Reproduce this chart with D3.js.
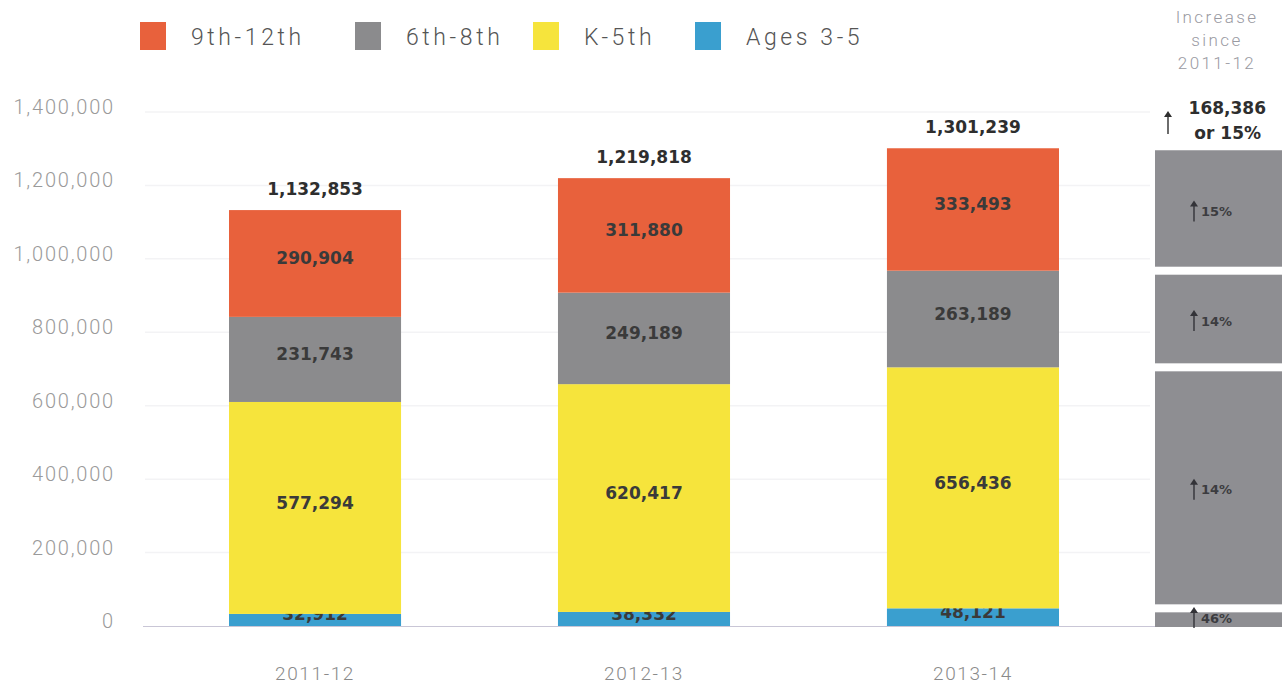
<!DOCTYPE html>
<html>
<head>
<meta charset="utf-8">
<script src="https://cdn.jsdelivr.net/npm/d3@7"></script>
<style>
  body { margin: 0; background: #fff; }
  text { font-family: Roboto, "Liberation Sans", sans-serif; }
  .val { font-family: "DejaVu Sans", sans-serif; font-weight: bold; }
</style>
</head>
<body>
<div id="chart"></div>
<script>
var width = 1282,
    height = 684;

var years = ["2011-12", "2012-13", "2013-14"];
var groups = ["Ages 3-5", "K-5th", "6th-8th", "9th-12th"];
var ages35 = [32912, 38332, 48121];
var k5 = [577294, 620417, 656436];
var g68 = [231743, 249189, 263189];
var g912 = [290904, 311880, 333493];
var totals = [1132853, 1219818, 1301239];
var increases = ["46%", "14%", "14%", "15%"];
var yTicks = [0, 200000, 400000, 600000, 800000, 1000000, 1200000, 1400000];

var color = d3.scaleOrdinal()
    .domain(groups)
    .range(["#3a9fcf", "#f6e43c", "#8b8b8d", "#e8613c"]);

var x = d3.scaleBand()
    .domain(years)
    .range([229, 1059])
    .paddingInner(0.477)
    .paddingOuter(0);

var y = d3.scaleLinear()
    .domain([0, 1400000])
    .range([626, 112]);

var fmt = d3.format(",");

var rows = years.map(function(d, i) {
  return { year: d, "Ages 3-5": ages35[i], "K-5th": k5[i], "6th-8th": g68[i], "9th-12th": g912[i] };
});
var stack = d3.stack().keys(groups)(rows);

var svg = d3.select("#chart").append("svg")
    .attr("width", width)
    .attr("height", height);

// thin up arrow: line plus small head
function arrow(g, ax, top, len, col) {
  g.append("line")
      .attr("x1", ax).attr("x2", ax)
      .attr("y1", top + 3).attr("y2", top + len)
      .style("stroke", col)
      .style("stroke-width", 1.4);
  g.append("path")
      .attr("d", "M" + (ax - 4) + "," + (top + 6) + "L" + ax + "," + top + "L" + (ax + 4) + "," + (top + 6) + "Z")
      .style("fill", col);
}

// gridlines
svg.append("g").selectAll("line")
    .data(yTicks.slice(1))
  .enter().append("line")
    .attr("x1", 145).attr("x2", 1150)
    .attr("y1", function(d) { return y(d); })
    .attr("y2", function(d) { return y(d); })
    .style("stroke", "#f3f3f5")
    .style("stroke-width", 1.5);

// y axis labels
svg.append("g").selectAll("text")
    .data(yTicks)
  .enter().append("text")
    .attr("x", 115)
    .attr("y", function(d) { return y(d) - 5; })
    .attr("dy", ".35em")
    .attr("text-anchor", "end")
    .style("font-size", "20px")
    .style("font-weight", 300)
    .style("letter-spacing", "1.8px")
    .style("fill", "#9a9a9a")
    .text(function(d) { return fmt(d); });

// baseline
svg.append("line")
    .attr("x1", 143).attr("x2", 1282)
    .attr("y1", y(0) + 0.5).attr("y2", y(0) + 0.5)
    .style("stroke", "#c9c6d6")
    .style("stroke-width", 1.2);

// stacked bars
var layer = svg.selectAll(".layer")
    .data(stack)
  .enter().append("g")
    .attr("class", "layer")
    .style("fill", function(d) { return color(d.key); });

layer.selectAll("rect")
    .data(function(d) { return d; })
  .enter().append("rect")
    .attr("x", function(d) { return x(d.data.year); })
    .attr("width", x.bandwidth())
    .attr("y", function(d) { return y(d[1]); })
    .attr("height", function(d) { return y(d[0]) - y(d[1]); });

layer.selectAll("text")
    .data(function(d) { return d; })
  .enter().append("text")
    .attr("class", "val")
    .attr("x", function(d) { return x(d.data.year) + x.bandwidth() / 2; })
    .attr("y", function(d) {
      var c = (y(d[0]) + y(d[1])) / 2 - 5;
      return Math.min(c, y(0) - 12);
    })
    .attr("dy", ".35em")
    .attr("text-anchor", "middle")
    .style("font-size", "17px")
    .style("fill", "#3a3a3a")
    .text(function(d) { return fmt(d[1] - d[0]); });

// totals
svg.append("g").selectAll("text")
    .data(totals)
  .enter().append("text")
    .attr("class", "val")
    .attr("x", function(d, i) { return x(years[i]) + x.bandwidth() / 2; })
    .attr("y", function(d) { return y(d) - 21; })
    .attr("dy", ".35em")
    .attr("text-anchor", "middle")
    .style("font-size", "17px")
    .style("fill", "#2e2e2e")
    .text(function(d) { return fmt(d); });

// x labels
svg.append("g").selectAll("text")
    .data(years)
  .enter().append("text")
    .attr("x", function(d) { return x(d) + x.bandwidth() / 2; })
    .attr("y", 673)
    .attr("dy", ".35em")
    .attr("text-anchor", "middle")
    .style("font-size", "19px")
    .style("font-weight", 300)
    .style("letter-spacing", "1.6px")
    .style("fill", "#8a8a8a")
    .text(function(d) { return d; });

// increase panel, built from the latest year's segments
var last = stack.map(function(s, i) { return { key: s.key, seg: s[2], inc: increases[i] }; });
var px0 = 1155, pw = 127;

var panel = svg.append("g");
panel.selectAll("rect")
    .data(last)
  .enter().append("rect")
    .attr("x", px0)
    .attr("width", pw)
    .attr("y", function(d, i) { return y(d.seg[1]) + (i == 3 ? 2 : 4); })
    .attr("height", function(d, i) {
      var top = y(d.seg[1]) + (i == 3 ? 2 : 4);
      var bot = i == 0 ? y(0) + 1 : y(d.seg[0]) - 4;
      return bot - top;
    })
    .style("fill", "#8e8e92");

last.forEach(function(d, i) {
  var cy = i == 0 ? 618 : (y(d.seg[0]) + y(d.seg[1])) / 2 + 2;
  arrow(panel, 1194, cy - 11, 21, "#333338");
  panel.append("text")
      .attr("class", "val")
      .attr("x", 1201)
      .attr("y", cy)
      .attr("dy", ".35em")
      .style("font-size", "13px")
      .style("fill", "#3c3c40")
      .text(d.inc);
});

// panel heading
svg.append("g").selectAll("text")
    .data(["Increase", "since", "2011-12"])
  .enter().append("text")
    .attr("x", 1217)
    .attr("y", function(d, i) { return 17 + i * 23; })
    .attr("dy", ".35em")
    .attr("text-anchor", "middle")
    .style("font-size", "17px")
    .style("font-weight", 300)
    .style("letter-spacing", "2.4px")
    .style("fill", "#9a9aa2")
    .text(function(d) { return d; });

var totalInc = totals[2] - totals[0];
arrow(svg, 1168, 111, 23, "#2e2e2e");
svg.append("text")
    .attr("class", "val")
    .attr("x", 1266).attr("y", 108)
    .attr("dy", ".35em")
    .attr("text-anchor", "end")
    .style("font-size", "17px")
    .style("fill", "#2e2e2e")
    .text(fmt(totalInc));
svg.append("text")
    .attr("class", "val")
    .attr("x", 1261).attr("y", 133)
    .attr("dy", ".35em")
    .attr("text-anchor", "end")
    .style("font-size", "17px")
    .style("fill", "#2e2e2e")
    .text("or " + Math.round(totalInc / totals[0] * 100) + "%");

// legend
var legendOrder = ["9th-12th", "6th-8th", "K-5th", "Ages 3-5"];
var legendX = [140, 355, 533, 695];
var legend = svg.append("g").selectAll("g")
    .data(legendOrder)
  .enter().append("g")
    .attr("transform", function(d, i) { return "translate(" + legendX[i] + ",22)"; });

legend.append("rect")
    .attr("width", 26)
    .attr("height", 28)
    .style("fill", function(d) { return color(d); });

legend.append("text")
    .attr("x", 51)
    .attr("y", 15)
    .attr("dy", ".35em")
    .style("font-size", "23px")
    .style("font-weight", 300)
    .style("letter-spacing", "3.6px")
    .style("fill", "#555")
    .text(function(d) { return d; });
</script>
</body>
</html>
